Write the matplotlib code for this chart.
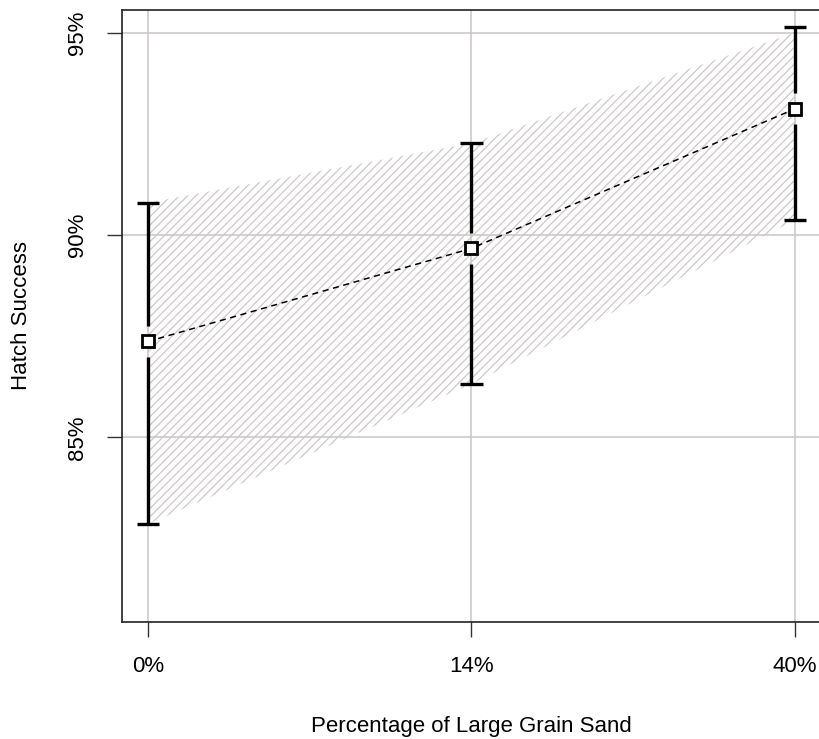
import matplotlib
matplotlib.use("Agg")
import matplotlib.pyplot as plt
import numpy as np

# data
categories = ["0%", "14%", "40%"]
hatch_mean = [87.37, 89.67, 93.12]
err_low = [82.86, 86.32, 90.37]
err_high = [90.80, 92.27, 95.15]
band_low = [82.86, 86.32, 90.37]
band_high = [90.80, 92.27, 95.00]
y_ticks = [85, 90, 95]

plt.rcParams['font.family'] = ['Liberation Sans', 'DejaVu Sans']
plt.rcParams['hatch.linewidth'] = 0.9
plt.rcParams['hatch.color'] = '#cdc8c8'

fig = plt.figure(figsize=(8.19, 7.39), dpi=100)
ax = fig.add_axes([0.149, 0.1583, 0.8534, 0.8282])

x = np.arange(len(categories))

# grid
for xi in x:
    ax.axvline(xi, color='#cbc5c5', lw=1.1, zorder=0)
for yt in y_ticks:
    ax.axhline(yt, color='#cbc5c5', lw=1.1, zorder=0)

# hatched band
ax.fill_between(x, band_low, band_high, facecolor='none', edgecolor='#cdc8c8',
                hatch='////', linewidth=0, zorder=1)

# error bars with a gap around the point
gap = 0.38
mean = np.array(hatch_mean)
ax.vlines(x, err_low, mean - gap, color='black', lw=2.4, zorder=3)
ax.vlines(x, mean + gap, err_high, color='black', lw=2.4, zorder=3)
ax.hlines(err_low, x - 0.034, x + 0.034, color='black', lw=2.4, zorder=3)
ax.hlines(err_high, x - 0.034, x + 0.034, color='black', lw=2.4, zorder=3)

# dashed line + open squares
ax.plot(x, hatch_mean, color='black', lw=1.1, ls=(0, (4, 3)), zorder=4)
ax.plot(x, hatch_mean, ls='none', marker='s', ms=8.5, mfc='white', mec='black',
        mew=2.0, zorder=5)

ax.set_xlim(-0.08, 2.08)
ax.set_ylim(80.44, 95.56)
ax.set_xticks(x)
ax.set_xticklabels(categories, fontsize=16)
ax.set_yticks(y_ticks)
ax.set_yticklabels([f"{t}%" for t in y_ticks], fontsize=16, rotation=90, va='center')
ax.tick_params(direction='out', length=10.5, width=1.0, color='#333333')
ax.tick_params(axis='y', pad=14)
ax.tick_params(axis='x', pad=14)

for s in ax.spines.values():
    s.set_color('#222222')
    s.set_linewidth(1.2)

ax.set_xlabel('Percentage of Large Grain Sand', fontsize=16, labelpad=28)
ax.set_ylabel('Hatch Success', fontsize=16, labelpad=25)

fig.savefig('out.png', dpi=100)
